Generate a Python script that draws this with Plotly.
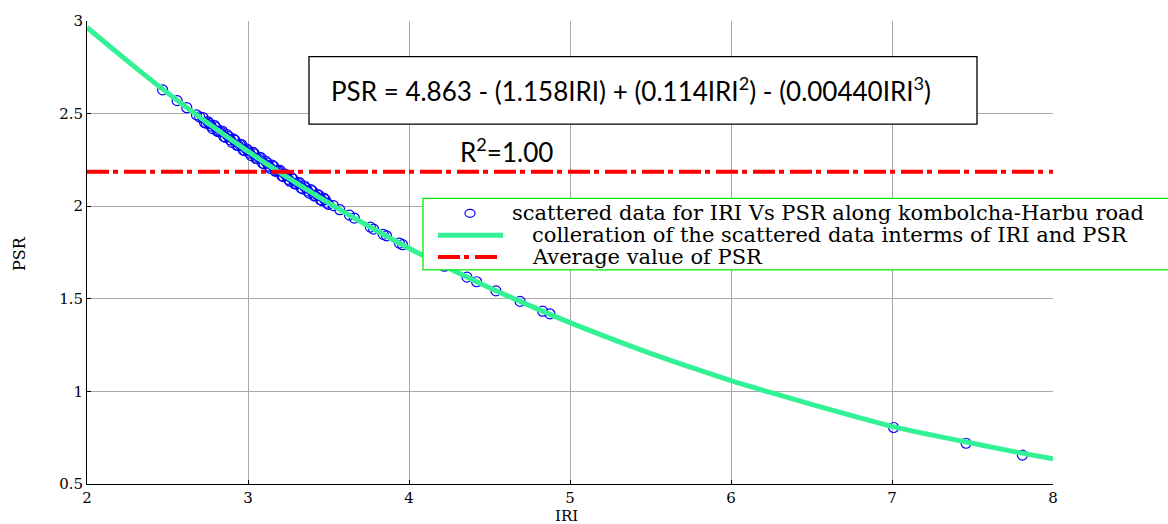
import plotly.graph_objects as go

# ---- data ----
# scattered IRI vs PSR observations
iri_obs = [2.47, 2.56, 2.62, 2.68, 2.70,
           2.72, 2.74, 2.76, 2.78, 2.80, 2.82, 2.84, 2.86, 2.88, 2.90,
           2.92, 2.94, 2.96, 2.98, 3.00, 3.02, 3.04, 3.06, 3.08, 3.10,
           3.12, 3.14, 3.16, 3.18, 3.20, 3.22, 3.24, 3.26, 3.28, 3.30,
           3.32, 3.34, 3.36, 3.38, 3.40, 3.42, 3.44, 3.46, 3.48, 3.50,
           2.73, 2.75, 2.77, 2.79, 2.81, 2.83, 2.85, 2.87, 2.89, 2.91,
           2.93, 2.95, 2.97, 2.99, 3.01, 3.03, 3.05, 3.07, 3.09, 3.11,
           3.13, 3.15, 3.17, 3.19, 3.21, 3.23, 3.25, 3.27, 3.29, 3.31,
           3.33, 3.35, 3.37, 3.39, 3.41, 3.43, 3.45, 3.47, 3.49,
           3.53, 3.57, 3.63, 3.66, 3.76, 3.78, 3.84, 3.86, 3.94, 3.96,
           4.22, 4.36, 4.42, 4.54, 4.69, 4.83, 4.875,
           7.01, 7.46, 7.81]
psr_obs = [2.628, 2.570, 2.532, 2.493, 2.482,
           2.479, 2.448, 2.447, 2.419, 2.427, 2.402, 2.406, 2.372, 2.376, 2.345,
           2.355, 2.327, 2.333, 2.300, 2.300, 2.273, 2.283, 2.256, 2.262, 2.229,
           2.233, 2.204, 2.214, 2.189, 2.193, 2.160, 2.166, 2.135, 2.146, 2.120,
           2.127, 2.094, 2.099, 2.071, 2.082, 2.055, 2.060, 2.030, 2.035, 2.010,
           2.452, 2.457, 2.433, 2.437, 2.404, 2.404, 2.376, 2.386, 2.358, 2.363,
           2.329, 2.333, 2.303, 2.310, 2.287, 2.291, 2.258, 2.262, 2.233, 2.243,
           2.216, 2.222, 2.189, 2.191, 2.164, 2.174, 2.145, 2.154, 2.121, 2.126,
           2.098, 2.109, 2.082, 2.089, 2.056, 2.062, 2.035, 2.044, 2.017,
           2.003, 1.981, 1.952, 1.936, 1.887, 1.876, 1.848, 1.840, 1.801, 1.792,
           1.676, 1.617, 1.592, 1.543, 1.486, 1.433, 1.419,
           0.805, 0.720, 0.656]

# fitted correlation curve
iri_fit = [2.0, 2.25, 2.5, 2.75, 3.0, 3.25, 3.5, 3.75, 4.0, 4.25, 4.5, 4.75, 5.0,
           5.25, 5.5, 5.75, 6.0, 6.25, 6.5, 6.75, 7.0, 7.25, 7.5, 7.75, 8.0]
psr_fit = [2.965, 2.785, 2.612, 2.449, 2.296, 2.153, 2.018, 1.892, 1.773, 1.663,
           1.560, 1.463, 1.371, 1.286, 1.205, 1.130, 1.058, 0.993, 0.930, 0.869,
           0.811, 0.764, 0.720, 0.676, 0.636]

# average PSR
avg_iri = [2, 8]
avg_psr = [2.186, 2.186]

x_ticks = [2, 3, 4, 5, 6, 7, 8]
y_ticks = [0.5, 1, 1.5, 2, 2.5, 3]
y_tick_text = ["0.5", "1", "1.5", "2", "2.5", "3"]

legend_names = ["scattered data for IRI Vs PSR along kombolcha-Harbu road",
                "colleration of the scattered data interms of IRI and PSR",
                "Average value of PSR"]

equation = ("PSR = 4.863 - (1.158IRI) + (0.114IRI<sup>2</sup>) - "
            "(0.00440IRI<sup>3</sup>)")
r2_text = "R<sup>2</sup>=1.00"

serif = "DejaVu Serif"
blue = "#0000ff"
green = "#33f296"
red = "#ff0000"
red_dash = "22px,4px,5px,6px"

# plot-area geometry in pixels (used only to place the overlay boxes)
W, H = 1168, 524
L, R, T, B = 87, 1053, 17, 484


def px(x):
    return (x - L) / (R - L)


def py(y):
    return (B - y) / (B - T)


fig = go.Figure()
fig.add_trace(go.Scatter(
    x=iri_obs, y=psr_obs, mode="markers", name=legend_names[0],
    marker=dict(symbol="circle-open", size=10, color=blue,
                line=dict(width=1.2, color=blue)),
))
fig.add_trace(go.Scatter(
    x=iri_fit, y=psr_fit, mode="lines", name=legend_names[1], line_shape="spline",
    line=dict(color=green, width=5),
))
fig.add_trace(go.Scatter(
    x=avg_iri, y=avg_psr, mode="lines", name=legend_names[2],
    line=dict(color=red, width=4, dash=red_dash),
))

# equation box
fig.add_shape(type="rect", xref="paper", yref="paper",
              x0=px(309), x1=px(977), y0=py(121), y1=py(53),
              line=dict(color="black", width=1.3), fillcolor="white", layer="above")
fig.add_annotation(xref="paper", yref="paper", x=px(631), y=py(86),
                   xanchor="center", yanchor="middle",
                   text=equation, showarrow=False,
                   font=dict(family="Lato", size=26, color="black"))
fig.add_annotation(xref="paper", yref="paper", x=px(506), y=py(148),
                   xanchor="center", yanchor="middle",
                   text=r2_text, showarrow=False,
                   font=dict(family="Lato", size=26, color="black"))

# legend box (drawn by hand to match the reference geometry)
fig.add_shape(type="rect", xref="paper", yref="paper",
              x0=px(423), x1=px(1175), y0=py(268), y1=py(196),
              line=dict(color="#00ee00", width=1.3), fillcolor="white", layer="above")
row_y = [211, 233, 255]
fig.add_shape(type="circle", xref="paper", yref="paper",
              x0=px(465), x1=px(475), y0=py(row_y[0] + 4), y1=py(row_y[0] - 4),
              line=dict(color=blue, width=1.2), layer="above")
fig.add_shape(type="line", xref="paper", yref="paper",
              x0=px(438), x1=px(503), y0=py(row_y[1]), y1=py(row_y[1]),
              line=dict(color=green, width=5), layer="above")
fig.add_shape(type="line", xref="paper", yref="paper",
              x0=px(438), x1=px(500), y0=py(row_y[2]), y1=py(row_y[2]),
              line=dict(color=red, width=4, dash=red_dash), layer="above")
text_x = [510, 530, 530]
for name, tx, ty in zip(legend_names, text_x, row_y):
    fig.add_annotation(xref="paper", yref="paper", x=px(tx), y=py(ty),
                       xanchor="left", yanchor="middle", text=name, showarrow=False,
                       font=dict(family=serif, size=21, color="black"))

# axis titles
fig.add_annotation(xref="paper", yref="paper", x=px(566), y=py(516),
                   xanchor="center", yanchor="middle",
                   text="IRI", showarrow=False,
                   font=dict(family=serif, size=15, color="black"))
fig.add_annotation(xref="paper", yref="paper", x=px(20), y=py(252),
                   xanchor="center", yanchor="middle",
                   text="PSR", showarrow=False, textangle=-90,
                   font=dict(family=serif, size=16, color="black"))

axis_common = dict(
    showgrid=True, gridcolor="#a8a8a8", gridwidth=1, zeroline=False,
    showline=True, linecolor="black", linewidth=1,
    ticks="inside", ticklen=4, tickcolor="black", tickwidth=1,
    tickfont=dict(family=serif, size=15, color="black"),
)
fig.update_xaxes(range=[2, 8], tickvals=x_ticks, **axis_common)
fig.update_yaxes(range=[0.5, 3], tickvals=y_ticks, ticktext=y_tick_text, **axis_common)

fig.update_layout(
    width=W, height=H,
    margin=dict(l=L, r=W - R, t=T, b=H - B),
    paper_bgcolor="white", plot_bgcolor="white",
    showlegend=False,
)

fig.write_html("out.html")
